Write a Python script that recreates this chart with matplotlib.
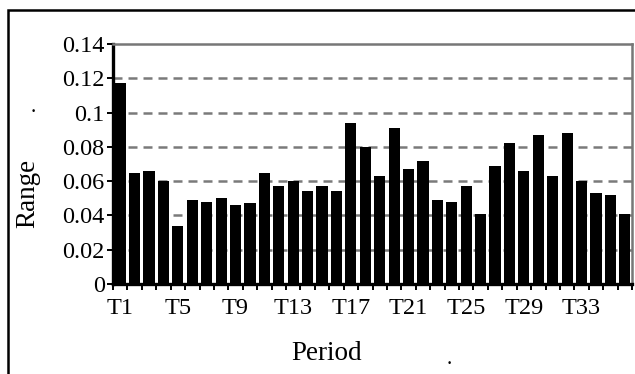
import matplotlib
matplotlib.use("Agg")
import matplotlib.pyplot as plt
from matplotlib.patches import Rectangle
import numpy as np

periods = [f"T{i}" for i in range(1, 37)]
ranges = [0.117, 0.065, 0.066, 0.060, 0.034, 0.049, 0.048, 0.050, 0.046, 0.047,
          0.065, 0.057, 0.060, 0.054, 0.057, 0.054, 0.094, 0.080, 0.063, 0.091,
          0.067, 0.072, 0.049, 0.048, 0.057, 0.041, 0.069, 0.082, 0.066, 0.087,
          0.063, 0.088, 0.060, 0.053, 0.052, 0.041]
yticks = [0, 0.02, 0.04, 0.06, 0.08, 0.1, 0.12, 0.14]
ytick_labels = ["0", "0.02", "0.04", "0.06", "0.08", "0.1", "0.12", "0.14"]
label_step = 4

plt.rcParams['font.family'] = ['Liberation Serif', 'DejaVu Serif']

W, H = 635, 374
fig = plt.figure(figsize=(W / 100, H / 100), dpi=100)
ax = fig.add_axes([113 / W, 1 - 284 / H, (632 - 113) / W, (284 - 44) / H])

x = np.arange(len(ranges))
ax.bar(x, ranges, width=0.78, color='black', zorder=3)

ax.set_xlim(-0.5, len(ranges) - 0.5)
ax.set_ylim(0, 0.14)

# gridlines
for y in yticks[1:-1]:
    ax.axhline(y, color='#7a7a7a', lw=1.8, ls=(0, (3.6, 2.4)), zorder=1)

ax.set_yticks(yticks)
ax.set_yticklabels(ytick_labels, fontsize=17.5)
ax.tick_params(axis='y', direction='out', length=4, width=1.4, pad=2)

ax.set_xticks(x[::label_step])
ax.set_xticklabels(periods[::label_step], fontsize=17.5)
ax.set_xticks(np.arange(-0.5, len(ranges)), minor=True)
ax.tick_params(axis='x', which='major', length=0, pad=10)
ax.tick_params(axis='x', which='minor', direction='out', length=4, width=1.4)

for s in ['left', 'bottom']:
    ax.spines[s].set_color('black')
    ax.spines[s].set_linewidth(2.4)
for s in ['top', 'right']:
    ax.spines[s].set_color('#777777')
    ax.spines[s].set_linewidth(1.8)

fig.text(28 / W, 1 - 193 / H, "Range", rotation=90, fontsize=19.5,
         ha='center', va='center')
fig.text(33 / W, 1 - 107 / H, ".", fontsize=15, ha='center', va='center')
fig.text(327 / W, 1 - 354 / H, "Period", fontsize=19.5, ha='center', va='center')
fig.text(449 / W, 1 - 359 / H, ".", fontsize=15, ha='center', va='center')

fig.patches.append(Rectangle((8 / W, -0.1), 1.2, (H - 10) / H + 0.1,
                             transform=fig.transFigure, fill=False,
                             edgecolor='black', lw=1.8))

fig.savefig("out.png", dpi=100)
